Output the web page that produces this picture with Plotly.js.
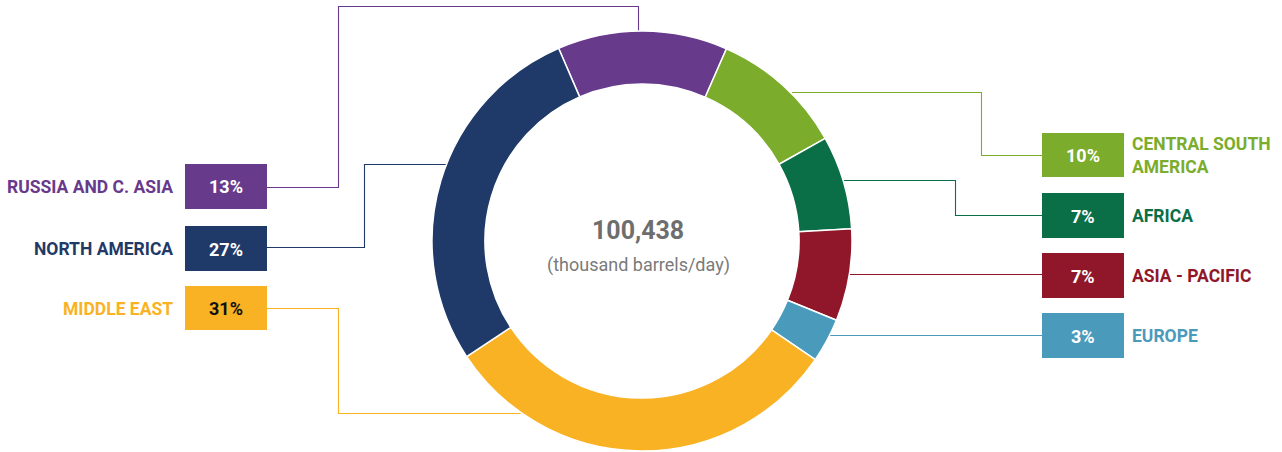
<!DOCTYPE html>
<html>
<head>
<meta charset="utf-8">
<script src="https://cdn.plot.ly/plotly-3.0.1.min.js"></script>
<style>
html,body{margin:0;padding:0;background:#fff;}
#chart{width:1282px;height:452px;}
</style>
</head>
<body>
<div id="chart"></div>
<script>
// ---- data ----
var regions = ['RUSSIA AND C. ASIA', 'CENTRAL SOUTH<br>AMERICA', 'AFRICA', 'ASIA - PACIFIC', 'EUROPE', 'MIDDLE EAST', 'NORTH AMERICA'];
var shares = [13.1, 10.3, 7.2, 7.1, 3.4, 31.2, 27.8];
var shareLabels = ['13%', '10%', '7%', '7%', '3%', '31%', '27%'];
var colors = ['#673A8C', '#7BAC2C', '#0A6E47', '#8F1729', '#4A9ABC', '#F9B224', '#1F3A68'];
var totalText = '100,438';
var unitText = '(thousand barrels/day)';

// ---- layout helpers (pixel -> paper) ----
var W = 1282, H = 452;
function px(x){ return x / W; }
function py(y){ return 1 - y / H; }

// label placement: side, box top, box bottom, leader path (pixels)
var place = [
  {side:'L', y0:164, y1:209, path:[[267,187.5],[338.5,187.5],[338.5,6.5],[638.5,6.5],[638.5,31]]},
  {side:'R', y0:133, y1:177, path:[[792,92.5],[981.5,92.5],[981.5,155.5],[1042,155.5]]},
  {side:'R', y0:193, y1:238, path:[[844,180.5],[955.5,180.5],[955.5,215.5],[1042,215.5]]},
  {side:'R', y0:253, y1:298, path:[[850,274.5],[1042,274.5]]},
  {side:'R', y0:313, y1:358, path:[[830,335.5],[1042,335.5]]},
  {side:'L', y0:286, y1:330, path:[[267,308.5],[338.5,308.5],[338.5,413.5],[521,413.5]]},
  {side:'L', y0:226, y1:271, path:[[267,247.5],[364.5,247.5],[364.5,164.5],[446,164.5]]}
];
var boxL = [185, 267], boxR = [1042, 1124];
var pctTextColor = ['#ffffff','#ffffff','#ffffff','#ffffff','#ffffff','#111111','#ffffff'];

var shapes = [], annotations = [];
var FONT = 'Roboto, "Noto Sans", sans-serif';

place.forEach(function(p, i){
  var bx = p.side === 'L' ? boxL : boxR;
  var d = p.path.map(function(pt, k){ return (k ? 'L' : 'M') + px(pt[0]) + ',' + py(pt[1]); }).join(' ');
  shapes.push({type:'path', xref:'paper', yref:'paper', path:d, layer:'below',
               line:{color:colors[i], width:1.1}});
  shapes.push({type:'rect', xref:'paper', yref:'paper',
               x0:px(bx[0]), x1:px(bx[1]), y0:py(p.y1), y1:py(p.y0),
               fillcolor:colors[i], line:{width:0}, layer:'above'});
  var cy = (p.y0 + p.y1) / 2;
  annotations.push({xref:'paper', yref:'paper', x:px((bx[0]+bx[1])/2), y:py(cy+0.5),
                    xanchor:'center', yanchor:'middle', showarrow:false,
                    text:'<b>' + shareLabels[i] + '</b>',
                    font:{family:FONT, size:18, color:pctTextColor[i]}});
  annotations.push({xref:'paper', yref:'paper',
                    x: p.side === 'L' ? px(175) : px(1130),
                    y: py(cy + 0.5),
                    xanchor: p.side === 'L' ? 'right' : 'left', yanchor:'middle',
                    align: p.side === 'L' ? 'right' : 'left',
                    showarrow:false,
                    text:'<b>' + regions[i] + '</b>',
                    font:{family:FONT, size:17.5, color:colors[i]}});
});

annotations.push({xref:'paper', yref:'paper', x:px(638), y:py(230), xanchor:'center', yanchor:'middle',
                  showarrow:false, text:'<b>' + totalText + '</b>',
                  font:{family:FONT, size:25, color:'#6E6E6E'}});
annotations.push({xref:'paper', yref:'paper', x:px(638), y:py(265), xanchor:'center', yanchor:'middle',
                  showarrow:false, text:unitText,
                  font:{family:FONT, size:18, color:'#7A7A7A'}});

var trace = {
  type:'pie',
  values: shares,
  labels: regions,
  sort:false,
  direction:'clockwise',
  rotation:-23.4,
  hole:0.748,
  textinfo:'none',
  hoverinfo:'skip',
  marker:{colors:colors, line:{color:'#ffffff', width:1.5}},
  domain:{x:[px(432), px(852)], y:[py(451), py(31)]},
  showlegend:false
};

var layout = {
  width:W, height:H,
  margin:{l:0, r:0, t:0, b:0},
  paper_bgcolor:'#ffffff',
  plot_bgcolor:'#ffffff',
  showlegend:false,
  shapes:shapes,
  annotations:annotations
};

Plotly.newPlot('chart', [trace], layout, {displayModeBar:false, staticPlot:true});
</script>
</body>
</html>
